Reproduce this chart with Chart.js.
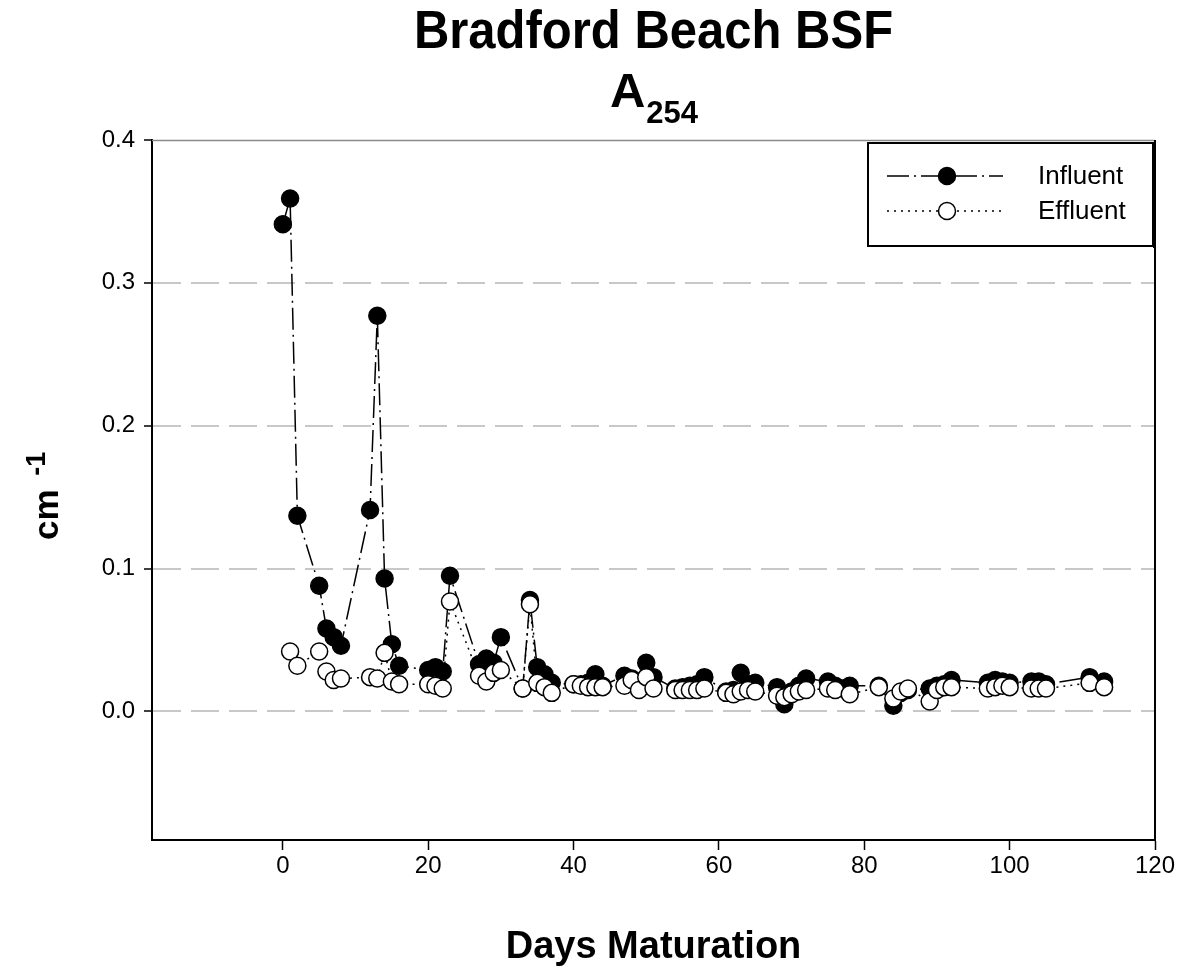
<!DOCTYPE html>
<html>
<head>
<meta charset="utf-8">
<script src="https://cdn.jsdelivr.net/npm/chart.js@4"></script>
<style>
  html, body { margin: 0; padding: 0; background: #fff; }
  #wrap { width: 1183px; height: 968px; }
</style>
</head>
<body>
<div id="wrap"><canvas id="chart" width="1183" height="968"></canvas></div>
<script>
// values (days of maturation, absorbance per cm)
const inflDays = [0, 1, 2, 5, 6, 7, 8, 12, 13, 14, 15, 16, 20, 21, 22, 23, 27, 28, 29, 30, 33, 34, 35, 36, 37,
    40, 41, 42, 43, 44, 47, 48, 49, 50, 51, 54, 55, 56, 57, 58, 61, 62, 63, 64, 65, 68, 69, 70, 71, 72,
    75, 76, 77, 78, 82, 84, 85, 86, 89, 90, 91, 92, 97, 98, 99, 100, 103, 104, 105, 111, 113];
const inflVals = [0.341, 0.359, 0.137, 0.088, 0.058, 0.052, 0.046, 0.141, 0.277, 0.093, 0.047, 0.032, 0.029, 0.031, 0.028, 0.095,
    0.033, 0.037, 0.034, 0.052, 0.016, 0.078, 0.031, 0.026, 0.020,
    0.019, 0.019, 0.020, 0.026, 0.018, 0.025, 0.023, 0.016, 0.034, 0.024, 0.016, 0.017, 0.018, 0.019, 0.024,
    0.014, 0.015, 0.027, 0.019, 0.020, 0.017, 0.005, 0.014, 0.018, 0.023,
    0.021, 0.018, 0.016, 0.018, 0.018, 0.004, 0.013, 0.015, 0.016, 0.018, 0.019, 0.022,
    0.020, 0.022, 0.021, 0.020, 0.021, 0.021, 0.019, 0.024, 0.021];

const efflDays = [1, 2, 5, 6, 7, 8, 12, 13, 14, 15, 16, 20, 21, 22, 23, 27, 28, 29, 30, 33, 34, 35, 36, 37,
    40, 41, 42, 43, 44, 47, 48, 49, 50, 51, 54, 55, 56, 57, 58, 61, 62, 63, 64, 65, 68, 69, 70, 71, 72,
    75, 76, 78, 82, 84, 85, 86, 89, 90, 91, 92, 97, 98, 99, 100, 103, 104, 105, 111, 113];
const efflVals = [0.042, 0.032, 0.042, 0.028, 0.022, 0.023, 0.024, 0.023, 0.041, 0.021, 0.019, 0.019, 0.018, 0.016, 0.077,
    0.025, 0.021, 0.027, 0.029, 0.016, 0.075, 0.020, 0.017, 0.013,
    0.019, 0.018, 0.017, 0.017, 0.017, 0.018, 0.022, 0.015, 0.024, 0.016, 0.015, 0.015, 0.015, 0.015, 0.016,
    0.013, 0.012, 0.014, 0.015, 0.014, 0.011, 0.010, 0.012, 0.014, 0.015,
    0.016, 0.015, 0.012, 0.017, 0.009, 0.014, 0.016, 0.007, 0.015, 0.017, 0.017,
    0.016, 0.017, 0.018, 0.017, 0.016, 0.016, 0.016, 0.020, 0.017];

const xTicks = [0, 20, 40, 60, 80, 100, 120];
const yTicks = [0.0, 0.1, 0.2, 0.3, 0.4];

const FONT = '"Liberation Sans", Arial, sans-serif';

function pts(xs, ys) {
    return xs.map((x, i) => ({ x: x, y: ys[i] }));
}

// titles, y label, frame and legend box
const decorations = {
    id: 'decorations',
    afterDraw(chart) {
        const ctx = chart.ctx;
        const a = chart.chartArea;
        const cx = (a.left + a.right) / 2;
        ctx.save();
        ctx.fillStyle = '#000';
        ctx.textBaseline = 'alphabetic';

        // title (slightly taller glyphs, like the original)
        ctx.save();
        ctx.translate(cx, 48);
        ctx.scale(1, 1.08);
        ctx.textAlign = 'center';
        ctx.font = 'bold 49px ' + FONT;
        ctx.fillText('Bradford Beach BSF', 0, 0);
        ctx.restore();

        ctx.font = 'bold 49px ' + FONT;
        const wA = ctx.measureText('A').width;
        ctx.font = 'bold 31px ' + FONT;
        const wS = ctx.measureText('254').width;
        let sx = cx - (wA + wS) / 2;
        ctx.textAlign = 'left';
        ctx.font = 'bold 49px ' + FONT;
        ctx.fillText('A', sx, 107);
        ctx.font = 'bold 31px ' + FONT;
        ctx.fillText('254', sx + wA + 1, 123);

        // x title
        ctx.textAlign = 'center';
        ctx.font = 'bold 38px ' + FONT;
        ctx.fillText('Days Maturation', cx, 958);

        // y title, rotated
        ctx.save();
        ctx.translate(58, 540);
        ctx.rotate(-Math.PI / 2);
        ctx.textAlign = 'left';
        ctx.font = 'bold 35px ' + FONT;
        ctx.fillText('cm', 0, 0);
        const wcm = ctx.measureText('cm ').width;
        ctx.font = 'bold 27px ' + FONT;
        ctx.fillText('-1', wcm + 4, -13);
        ctx.restore();

        // frame top and right
        ctx.lineWidth = 1.5;
        ctx.strokeStyle = '#8a8a8a';
        ctx.beginPath();
        ctx.moveTo(a.left, a.top + 0.5);
        ctx.lineTo(a.right, a.top + 0.5);
        ctx.stroke();
        ctx.lineWidth = 2;
        ctx.strokeStyle = '#000';
        ctx.beginPath();
        ctx.moveTo(a.right, a.top);
        ctx.lineTo(a.right, a.bottom);
        ctx.stroke();

        // legend
        const lx = 868, ly = 143, lw = 285, lh = 103;
        ctx.fillStyle = '#fff';
        ctx.fillRect(lx, ly, lw, lh);
        ctx.lineWidth = 2;
        ctx.strokeStyle = '#000';
        ctx.strokeRect(lx, ly, lw, lh);
        ctx.fillStyle = '#000';
        ctx.fillRect(lx + lw, ly + 2, 2, lh);
        const rows = [176, 211];
        chart.data.datasets.slice().sort((p, q) => q.order - p.order).forEach((ds, i) => {
            const y = rows[i];
            ctx.save();
            ctx.lineWidth = ds.borderWidth;
            ctx.strokeStyle = ds.borderColor;
            ctx.setLineDash(ds.borderDash);
            ctx.beginPath();
            ctx.moveTo(887, y);
            ctx.lineTo(1003, y);
            ctx.stroke();
            ctx.setLineDash([]);
            ctx.beginPath();
            ctx.arc(947, y, ds.pointRadius, 0, Math.PI * 2);
            ctx.fillStyle = ds.pointBackgroundColor;
            ctx.fill();
            ctx.lineWidth = ds.pointBorderWidth;
            ctx.strokeStyle = ds.pointBorderColor;
            ctx.stroke();
            ctx.restore();
            ctx.fillStyle = '#000';
            ctx.textAlign = 'left';
            ctx.textBaseline = 'middle';
            ctx.font = '26px ' + FONT;
            ctx.fillText(ds.label, 1038, y + 1);
        });
        ctx.restore();
    }
};

const chart = new Chart(document.getElementById('chart'), {
    type: 'scatter',
    data: {
        datasets: [{
            label: 'Influent',
            data: pts(inflDays, inflVals),
            showLine: true,
            tension: 0,
            borderColor: '#000',
            borderWidth: 1.5,
            borderDash: [22, 5, 2, 5],
            pointRadius: 8.5,
            pointBorderWidth: 1.5,
            pointBackgroundColor: '#000',
            pointBorderColor: '#000',
            order: 2
        }, {
            label: 'Effluent',
            data: pts(efflDays, efflVals),
            showLine: true,
            tension: 0,
            borderColor: '#000',
            borderWidth: 1.5,
            borderDash: [2, 5],
            pointRadius: 8.5,
            pointBorderWidth: 1.5,
            pointBackgroundColor: '#fff',
            pointBorderColor: '#000',
            order: 1
        }]
    },
    options: {
        responsive: false,
        animation: false,
        layout: { padding: { left: 0, right: 28, top: 140, bottom: 0 } },
        plugins: {
            legend: { display: false },
            title: { display: false },
            tooltip: { enabled: false }
        },
        scales: {
            x: {
                type: 'linear',
                min: -18,
                max: 120,
                afterFit: s => { s.height = 128; },
                afterBuildTicks: s => { s.ticks = xTicks.map(v => ({ value: v })); },
                ticks: { color: '#000', padding: 2, font: { family: FONT, size: 24 } },
                grid: { drawOnChartArea: false, tickLength: 10, tickColor: '#000', tickWidth: 1.5 },
                border: { color: '#000', width: 2 }
            },
            y: {
                min: -0.09,
                max: 0.4,
                afterFit: s => { s.width = 152; },
                afterBuildTicks: s => { s.ticks = yTicks.map(v => ({ value: v })); },
                ticks: {
                    color: '#000', padding: 9,
                    font: { family: FONT, size: 24 },
                    callback: v => v.toFixed(1)
                },
                grid: {
                    color: c => (c.tick && c.tick.value > 0.35) ? 'rgba(0,0,0,0)' : '#c8c8c8',
                    lineWidth: 2,
                    tickLength: 8,
                    tickColor: '#000',
                    tickWidth: 1.5
                },
                border: { color: '#000', width: 2, dash: [28, 10] }
            }
        }
    },
    plugins: [decorations]
});
</script>
</body>
</html>
